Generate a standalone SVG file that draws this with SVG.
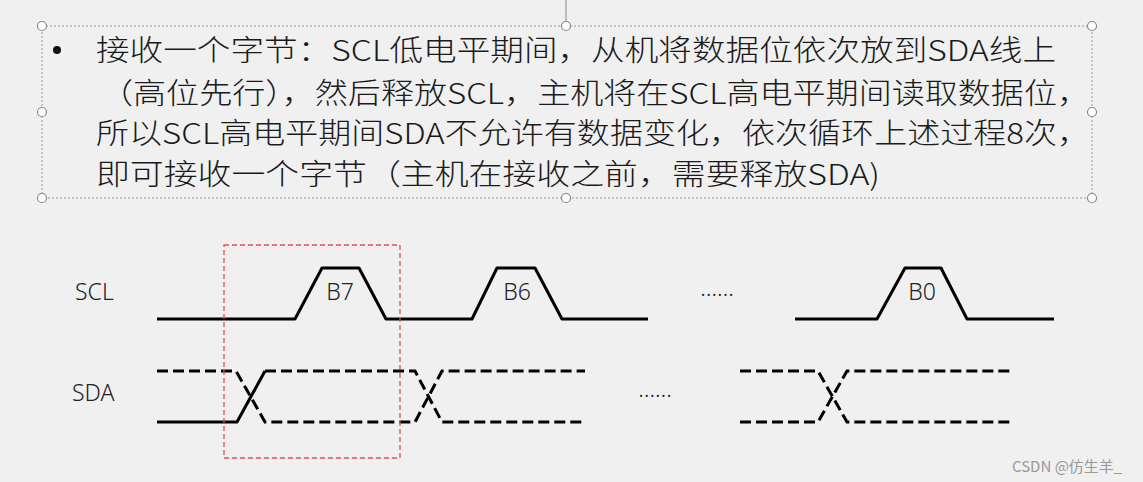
<svg xmlns="http://www.w3.org/2000/svg" width="1143" height="482" viewBox="0 0 1143 482">
<style>
.t{font-family:"Noto Sans CJK SC","Noto Sans",sans-serif;font-size:29px;font-weight:300;fill:#1a1a1a}
.l{font-family:"Noto Sans","Liberation Sans",sans-serif;font-size:23px;font-weight:300;fill:#222}
.s{fill:none;stroke:#000;stroke-width:3;stroke-linejoin:round}
.d{fill:none;stroke:#000;stroke-width:3;stroke-dasharray:11 5}
.h{fill:#fff;stroke:#888;stroke-width:1.2}
</style>
<rect width="1143" height="482" fill="#f0f0f0"/>
<g id="textbox">
<line x1="566" y1="0" x2="566" y2="26" stroke="#888" stroke-width="1"/>
<rect x="42" y="26" width="1050" height="172" fill="none" stroke="#999" stroke-width="1" stroke-dasharray="2 2"/>
<circle class="h" cx="42" cy="26" r="4.5"/><circle class="h" cx="566" cy="26" r="4.5"/><circle class="h" cx="1092" cy="26" r="4.5"/>
<circle class="h" cx="42" cy="112" r="4.5"/><circle class="h" cx="1092" cy="112" r="4.5"/>
<circle class="h" cx="42" cy="198" r="4.5"/><circle class="h" cx="566" cy="198" r="4.5"/><circle class="h" cx="1092" cy="198" r="4.5"/>
<circle cx="57" cy="50" r="4" fill="#111"/>
<text class="t" x="96" y="61" textLength="960" lengthAdjust="spacingAndGlyphs">接收一个字节：SCL低电平期间，从机将数据位依次放到SDA线上</text>
<text class="t" x="100" y="104" textLength="990" lengthAdjust="spacingAndGlyphs">（高位先行），然后释放SCL，主机将在SCL高电平期间读取数据位，</text>
<text class="t" x="96" y="144" textLength="994" lengthAdjust="spacingAndGlyphs">所以SCL高电平期间SDA不允许有数据变化，依次循环上述过程8次，</text>
<text class="t" x="96" y="185" textLength="784" lengthAdjust="spacingAndGlyphs">即可接收一个字节（主机在接收之前，需要释放SDA)</text>
</g>
<g id="labels">
<text class="l" x="75" y="300">SCL</text>
<text class="l" x="72" y="401">SDA</text>
<text class="l" x="340" y="300" text-anchor="middle">B7</text>
<text class="l" x="517" y="300" text-anchor="middle">B6</text>
<text class="l" x="922" y="300" text-anchor="middle">B0</text>
<text class="l" x="717" y="296" text-anchor="middle" font-size="20">……</text>
<text class="l" x="655" y="397" text-anchor="middle" font-size="20">……</text>
</g>
<g id="connectors">
<polyline class="s" points="157,319 295,319 322,268 359,268 386,319 472,319 497,268 535,268 562,319 648,319"/>
<polyline class="s" points="795,319 877,319 905,268 941,268 967,319 1054,319"/>
<polyline class="s" points="157,422 237,422 265,371"/>
<polyline class="d" points="157,371 236,371 265,422 415,422 442,371 585,371"/>
<polyline class="d" points="265,371 415,371 442,422 585,422"/>
<polyline class="d" points="740,371 818,371 847,422 1011,422"/>
<polyline class="d" points="740,422 818,422 847,371 1011,371"/>
</g>
<rect id="highlight" x="224" y="245" width="176" height="213" fill="none" stroke="#e05050" stroke-width="1.3" stroke-dasharray="5 3"/>
<text x="1012" y="472" font-family="Noto Sans CJK SC,sans-serif" font-size="15" fill="#999">CSDN @仿生羊_</text>
</svg>
